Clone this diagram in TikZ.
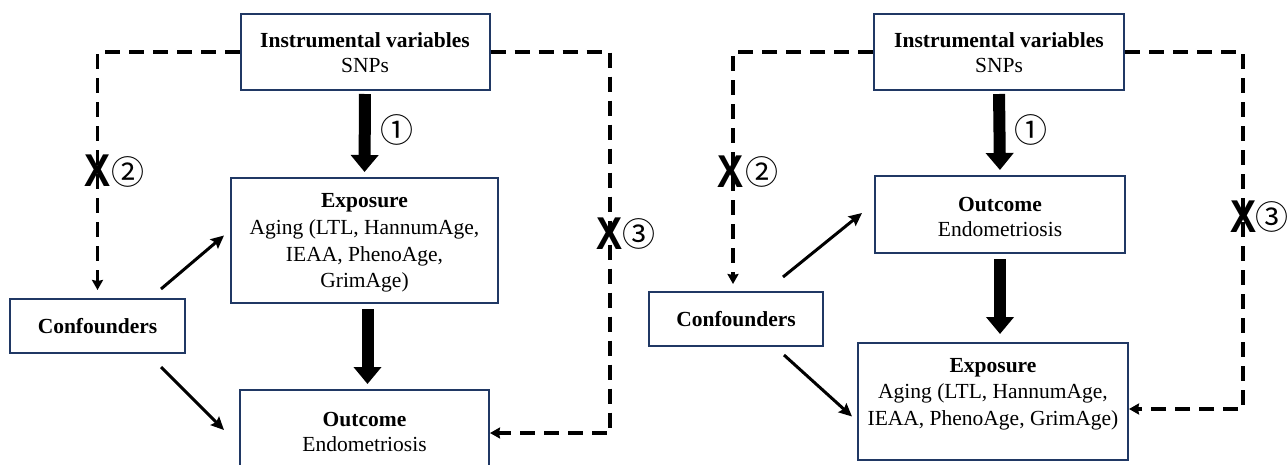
\documentclass[tikz,border=0pt]{standalone}
\usepackage{fontspec}
\setmainfont{Liberation Serif}
\newfontfamily\xfont{Liberation Sans}
\newfontfamily\circfont{Noto Sans CJK SC}
\usetikzlibrary{arrows.meta,calc}
\definecolor{boxnavy}{HTML}{203864}
\begin{document}
\begin{tikzpicture}[x=1pt,y=-1pt,
  box/.style={draw=boxnavy,line width=2pt,fill=white,inner sep=0pt},
  txt/.style={align=center,inner sep=0pt,font=\fontsize{21.5}{25}\selectfont},
  txtexp/.style={align=center,inner sep=0pt,font=\fontsize{21.5}{26.7}\selectfont},
  bigarrow/.style={line width=12pt,-{Triangle[width=27pt,length=17pt]}},
  thinarrow/.style={line width=3pt,-{Stealth[width=12pt,length=13pt,inset=2pt]}},
  dasharrow/.style={line width=3.3pt,dash pattern=on 15pt off 9pt,-{Stealth[width=11pt,length=10pt,inset=1pt]}},
  xmark/.style={inner sep=0pt,font=\xfont\bfseries\fontsize{46}{46}\selectfont},
  cnum/.style={inner sep=0pt,font=\circfont\fontsize{33}{33}\selectfont}]
\path[use as bounding box] (0,0) rectangle (1288,464);

% ---------------- left diagram ----------------
\node[box,minimum width=249pt,minimum height=76pt] (ivL) at (365,52) {};
\node[txt] (ivLt) at (365,53) {\textbf{Instrumental variables}\\SNPs};
\node[box,minimum width=267pt,minimum height=125pt] (expL) at (364.5,240.5) {};
\node[txtexp] (expLt) at (364.5,243) {\textbf{Exposure}\\Aging (LTL, HannumAge,\\IEAA, PhenoAge,\\GrimAge)};
\node[box,minimum width=249pt,minimum height=82pt] (outL) at (364.5,431) {};
\node[txt] (outLt) at (364.5,432) {\textbf{Outcome}\\Endometriosis};
\node[box,minimum width=175pt,minimum height=54pt] (confL) at (97.5,326) {};
\node[txt] (confLt) at (97.5,326) {\textbf{Confounders}};

\draw[bigarrow,shorten <=3pt,shorten >=5pt] (ivL.south) -- (expL.north);
\draw[bigarrow,shorten <=5pt,shorten >=5pt] ([xshift=3pt]expL.south) -- ([xshift=3pt]outL.north);
\node[cnum] (n1L) at (397,130) {①};

\draw[dasharrow,shorten >=8pt] (ivL.west) -| (confL.north);
\coordinate (cL3) at (610,433);
\draw[dasharrow] (ivL.east) -| (cL3) -- (outL.east |- cL3);
\node[xmark,xscale=0.85] (x2L) at (98,171) {X};
\node[cnum] (n2L) at (128,172) {②};
\node[xmark,xscale=0.85] (x3L) at (610,234) {X};
\node[cnum] (n3L) at (639,234) {③};

\draw[thinarrow] ($(confL.north east)+(-25,-9)$) -- ($(expL.west)+(-6,-5)$);
\draw[thinarrow] ($(confL.south east)+(-25,13)$) -- ($(outL.west)+(-15,-1)$);

% ---------------- right diagram ----------------
\node[box,minimum width=250pt,minimum height=76pt] (ivR) at (999,52) {};
\node[txt] (ivRt) at (999,53) {\textbf{Instrumental variables}\\SNPs};
\node[box,minimum width=250pt,minimum height=77pt] (outR) at (1000,214.5) {};
\node[txt] (outRt) at (1000,216.5) {\textbf{Outcome}\\Endometriosis};
\node[box,minimum width=270pt,minimum height=117pt] (expR) at (993,401.5) {};
\node[txtexp] (expRt) at (993,394) {\textbf{Exposure}\\Aging (LTL, HannumAge,\\IEAA, PhenoAge, GrimAge)};
\node[box,minimum width=174pt,minimum height=54pt] (confR) at (736,319) {};
\node[txt] (confRt) at (736,319) {\textbf{Confounders}};

\draw[bigarrow,shorten <=3pt,shorten >=5pt] (ivR.south) -- (outR.north);
\draw[bigarrow,shorten <=5pt,shorten >=8pt] (outR.south) -- (outR.south |- expR.north);
\node[cnum] (n1R) at (1031,130) {①};

\draw[dasharrow,shorten >=7pt] (ivR.west) -| ([xshift=-3pt]confR.north);
\coordinate (cR3) at (1243,409);
\draw[dasharrow] (ivR.east) -| (cR3) -- (expR.east |- cR3);
\node[xmark,xscale=0.85] (x2R) at (731,172) {X};
\node[cnum] (n2R) at (762,172) {②};
\node[xmark,xscale=0.85] (x3R) at (1244,217) {X};
\node[cnum] (n3R) at (1272,217) {③};

\draw[thinarrow] ($(confR.north east)+(-41,-14)$) -- ($(outR.west)+(-12,-1.5)$);
\draw[thinarrow] ($(confR.south east)+(-40,8)$) -- ($(expR.west)+(-5,15)$);
\end{tikzpicture}
\end{document}
